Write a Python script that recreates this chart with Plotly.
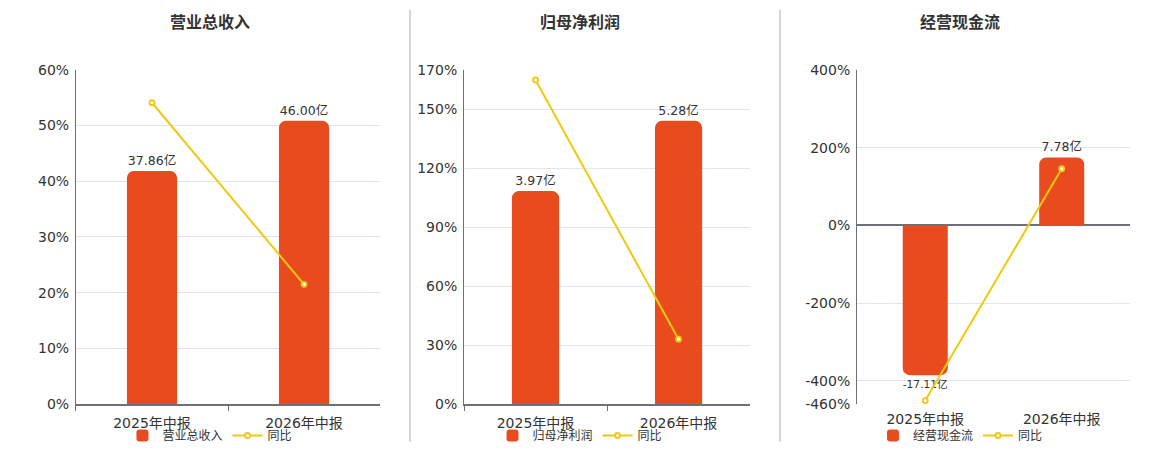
import plotly.graph_objects as go

# data
periods = ["2025年中报", "2026年中报"]

titles = ["营业总收入", "归母净利润", "经营现金流"]
amounts = [
    [37.86, 46.00],
    [3.97, 5.28],
    [-17.11, 7.78],
]
amount_labels = [
    ["37.86亿", "46.00亿"],
    ["3.97亿", "5.28亿"],
    ["-17.11亿", "7.78亿"],
]
yoy = [
    [54.1, 21.5],
    [164.9, 33.0],
    [-451.0, 145.5],
]
pct_ticks = [
    [0, 10, 20, 30, 40, 50, 60],
    [0, 30, 60, 90, 120, 150, 170],
    [-460, -400, -200, 0, 200, 400],
]
pct_ranges = [[0, 60], [0, 170], [-460, 400]]
amount_ranges = [[0, 54.26], [0, 6.23], [-20.42, 17.79]]

BAR = "#e84c1e"
LINE = "#f2c80f"
TXT = "#333333"
FONT = "DejaVu Sans, Noto Sans CJK SC, sans-serif"

x_domains = [[0.0655, 0.3276], [0.4, 0.6466], [0.7388, 0.9741]]
title_x = [0.181, 0.5, 0.828]
y_domain = [0.1, 0.8444]

fig = go.Figure()
layout = {}

for i in range(3):
    n = i + 1
    xa = "x" if n == 1 else f"x{n}"
    ya_bar = f"y{2 * n - 1}" if n > 1 else "y"
    ya_pct = f"y{2 * n}"
    leg = "legend" if n == 1 else f"legend{n}"

    fig.add_trace(go.Bar(
        x=periods, y=amounts[i], name=titles[i],
        xaxis=xa, yaxis=ya_bar, legend=leg,
        marker=dict(color=BAR, line=dict(width=0), cornerradius=7),
        width=0.33,
        text=amount_labels[i], textposition="outside", cliponaxis=False,
        textfont=dict(size=12.5, color=TXT, family=FONT),
    ))
    fig.add_trace(go.Scatter(
        x=periods, y=yoy[i], name="同比", mode="lines+markers",
        xaxis=xa, yaxis=ya_pct, legend=leg, cliponaxis=False,
        line=dict(color=LINE, width=2),
        marker=dict(size=5, color="white", line=dict(color=LINE, width=1.8)),
    ))

    xkey = "xaxis" if n == 1 else f"xaxis{n}"
    ybar_key = "yaxis" if n == 1 else f"yaxis{2 * n - 1}"
    ypct_key = f"yaxis{2 * n}"

    layout[xkey] = dict(
        domain=x_domains[i], anchor=ya_bar if n > 1 else "y",
        type="category", tickson="boundaries",
        ticks="outside" if n < 3 else "", ticklen=5, tickcolor="#6e7079",
        showline=n < 3, linecolor="#6e7079", linewidth=2,
        showgrid=False, automargin=False, ticklabelstandoff=5,
        tickfont=dict(size=14, color=TXT, family=FONT),
    )
    layout[ybar_key] = dict(
        domain=y_domain, anchor=xa, range=amount_ranges[i],
        visible=False, showgrid=False, zeroline=False,
    )
    layout[ypct_key] = dict(
        domain=y_domain, anchor=xa, overlaying=ya_bar, side="left",
        range=pct_ranges[i], tickvals=pct_ticks[i],
        ticktext=[f"{v}%" for v in pct_ticks[i]],
        showline=True, linecolor="#6e7079", linewidth=1,
        showgrid=True, gridcolor="#e0e6f1",
        zeroline=n == 3, zerolinecolor="#6e7079", zerolinewidth=2,
        automargin=False, ticks="", ticklen=0, ticklabelstandoff=3,
        tickfont=dict(size=14, color=TXT, family=FONT),
    )
    layout[leg] = dict(
        orientation="h", x=title_x[i], xanchor="center",
        y=0.031, yanchor="middle", bgcolor="rgba(0,0,0,0)",
        font=dict(size=12, color=TXT, family=FONT),
        itemwidth=30, tracegroupgap=0,
    )

annotations = [
    dict(text=f"<b>{t}</b>", x=title_x[i], y=0.951, xref="paper", yref="paper",
         xanchor="center", yanchor="middle",
         showarrow=False, font=dict(size=16, color=TXT, family=FONT))
    for i, t in enumerate(titles)
]

shapes = [
    dict(type="line", xref="paper", yref="paper", x0=x, x1=x, y0=0.016, y1=0.978,
         line=dict(color="#aaaaaa", width=1))
    for x in [410 / 1160, 780 / 1160]
]

fig.update_layout(
    **layout,
    annotations=annotations,
    shapes=shapes,
    width=1160, height=450,
    margin=dict(l=0, r=0, t=0, b=0),
    plot_bgcolor="white", paper_bgcolor="white",
    font=dict(family=FONT, color=TXT),
    bargap=0.67,
)

fig.write_html("out.html", config={"displayModeBar": False},
               post_script="document.body.style.margin='0';")
